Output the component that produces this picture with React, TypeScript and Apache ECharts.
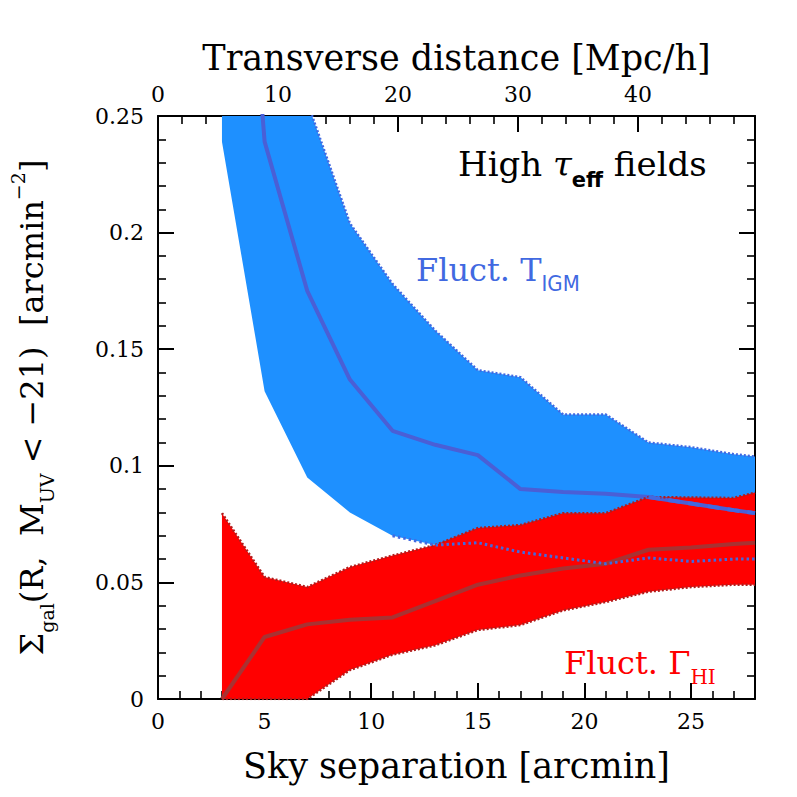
import React, { useEffect, useRef } from "react";
import * as echarts from "echarts";

// Sky separation [arcmin] sample points
const sep = [3, 5, 7, 9, 11, 13, 15, 17, 19, 21, 23, 25, 27, 28];
// Fluct. T_IGM band (blue)
const blueUpper = [0.62, 0.36, 0.256, 0.204, 0.178, 0.158, 0.141, 0.138, 0.122, 0.122, 0.110, 0.108, 0.105, 0.104];
const blueLower = [0.239, 0.132, 0.095, 0.080, 0.070, 0.066, 0.067, 0.063, 0.0605, 0.058, 0.0605, 0.059, 0.060, 0.060];
const blueMedian = [0.47, 0.239, 0.175, 0.137, 0.115, 0.109, 0.1046, 0.090, 0.0888, 0.088, 0.0866, 0.0838, 0.081, 0.0797];
// Fluct. Gamma_HI band (red)
const redUpper = [0.0797, 0.0523, 0.048, 0.0566, 0.0615, 0.066, 0.0733, 0.0746, 0.0797, 0.0797, 0.0866, 0.0864, 0.0862, 0.0885];
const redLower = [0, 0, 0, 0.0124, 0.019, 0.023, 0.0296, 0.0317, 0.038, 0.0416, 0.046, 0.048, 0.049, 0.049];
const redMedian = [0, 0.0266, 0.032, 0.034, 0.035, 0.042, 0.049, 0.053, 0.056, 0.058, 0.064, 0.065, 0.0665, 0.067];

// axes
const sepMax = 28;
const transverseMax = 49.75;
const yMax = 0.25;
const dashedFrom = 23; // blue median drawn dashed where it runs over the red band
const blueLowerOverFrom = 11; // blue lower edge redrawn over the red band

const SERIF = '"DejaVu Serif", serif';

const pairs = (ys: number[]) => sep.map((x, i) => [x, ys[i]]);

function bandSeries(upper: number[], lower: number[], color: string) {
  return {
    type: "custom",
    coordinateSystem: "cartesian2d",
    xAxisIndex: 0,
    yAxisIndex: 0,
    silent: true,
    data: [[sep[0], lower[0]]],
    renderItem: (params: any, api: any) => {
      const top = sep.map((x, i) => api.coord([x, upper[i]]));
      const bot = sep.map((x, i) => api.coord([x, lower[i]])).reverse();
      const cs = params.coordSys;
      return {
        type: "polygon",
        shape: { points: top.concat(bot) },
        style: { fill: color, stroke: null },
        clipPath: { type: "rect", shape: { x: cs.x, y: cs.y, width: cs.width, height: cs.height } },
      };
    },
  };
}

const axisLine = () => ({ show: true, onZero: false, lineStyle: { color: "#000", width: 2 } });
const axisTick = () => ({ show: true, inside: true, length: 16, lineStyle: { color: "#000", width: 2 } });
const minorTick = () => ({ show: true, splitNumber: 5, length: 8, lineStyle: { color: "#000", width: 1.6 } });
const lbl = (margin: number, extra: any = {}) => ({
  show: true, color: "#000", fontFamily: SERIF, fontSize: 22, margin, ...extra,
});

export default function App() {
  const ref = useRef<HTMLDivElement>(null);
  useEffect(() => {
    if (!ref.current) return;
    const chart = echarts.init(ref.current, undefined, { renderer: "svg" });
    const noSym = { showSymbol: false, symbol: "none", silent: true };
    const option: any = {
      animation: false,
      backgroundColor: "#fff",
      grid: { left: 158, right: 42, top: 116, bottom: 98, containLabel: false },
      xAxis: [
        {
          type: "value", position: "bottom", min: 0, max: sepMax, interval: 5,
          axisLine: axisLine(), axisTick: axisTick(), minorTick: minorTick(),
          splitLine: { show: false }, minorSplitLine: { show: false },
          axisLabel: lbl(11, { showMaxLabel: false }),
          name: "Sky separation [arcmin]", nameLocation: "middle", nameGap: 49,
          nameTextStyle: { color: "#000", fontFamily: SERIF, fontSize: 35 },
        },
        {
          type: "value", position: "top", min: 0, max: transverseMax, interval: 10,
          axisLine: axisLine(), axisTick: axisTick(), minorTick: minorTick(),
          splitLine: { show: false }, minorSplitLine: { show: false },
          axisLabel: lbl(11, { showMaxLabel: false }),
          name: "Transverse distance [Mpc/h]", nameLocation: "middle", nameGap: 41,
          nameTextStyle: { color: "#000", fontFamily: SERIF, fontSize: 35 },
        },
      ],
      yAxis: [
        {
          type: "value", position: "left", min: 0, max: yMax, interval: 0.05,
          axisLine: axisLine(), axisTick: axisTick(), minorTick: minorTick(),
          splitLine: { show: false }, minorSplitLine: { show: false },
          axisLabel: lbl(14),
          name: "{a|Σ}{s|gal}{a|(R,  M}{s|UV}{a| < −21)  [arcmin}{p|−2}{a|]}",
          nameLocation: "middle", nameRotate: 90, nameGap: 102,
          nameTextStyle: {
            color: "#000",
            rich: {
              a: { fontFamily: SERIF, fontSize: 32, lineHeight: 48, color: "#000" },
              s: { fontFamily: SERIF, fontSize: 19, lineHeight: 18, verticalAlign: "bottom", color: "#000" },
              p: { fontFamily: SERIF, fontSize: 19, lineHeight: 22, verticalAlign: "top", color: "#000" },
            },
          },
        },
        {
          type: "value", position: "right", min: 0, max: yMax, interval: 0.05,
          axisLine: axisLine(), axisTick: axisTick(), minorTick: minorTick(),
          splitLine: { show: false }, minorSplitLine: { show: false },
          axisLabel: { show: false },
        },
      ],
      series: [
        bandSeries(blueUpper, blueLower, "#1E90FF"),
        { type: "line", ...noSym, data: pairs(blueUpper), lineStyle: { color: "#4169E1", width: 2.5, type: [2, 2] } },
        { type: "line", ...noSym, data: pairs(blueMedian), lineStyle: { color: "#4A5FD6", width: 4 } },
        bandSeries(redUpper, redLower, "#FF0000"),
        { type: "line", ...noSym, data: pairs(redUpper), lineStyle: { color: "#B01C1C", width: 2.5, type: [2, 2] } },
        { type: "line", ...noSym, data: pairs(redLower), lineStyle: { color: "#B01C1C", width: 2.5, type: [2, 2] } },
        { type: "line", ...noSym, data: pairs(redMedian), lineStyle: { color: "#A83232", width: 4 } },
        {
          type: "line", ...noSym, data: pairs(blueLower).filter((p) => p[0] >= blueLowerOverFrom),
          lineStyle: { color: "#4169E1", width: 3, type: [2.5, 3] },
        },
        {
          type: "line", ...noSym, data: pairs(blueMedian).filter((p) => p[0] >= dashedFrom),
          lineStyle: { color: "#4169E1", width: 4, type: [12, 8] },
        },
      ],
      graphic: [
        {
          type: "text", x: 458, y: 164, silent: true,
          style: {
            text: "{a|High }{t|τ}{s|eff}{a| fields}",
            align: "left", verticalAlign: "middle",
            rich: {
              a: { fontFamily: SERIF, fontSize: 34, lineHeight: 52, fill: "#000" },
              t: { fontFamily: SERIF, fontStyle: "italic", fontSize: 34, lineHeight: 52, fill: "#000" },
              s: { fontFamily: '"DejaVu Sans", sans-serif', fontWeight: "bold", fontSize: 21, lineHeight: 18, verticalAlign: "bottom", fill: "#000" },
            },
          },
        },
        {
          type: "text", x: 416, y: 270, silent: true,
          style: {
            text: "{a|Fluct. T}{s|IGM}",
            align: "left", verticalAlign: "middle",
            rich: {
              a: { fontFamily: SERIF, fontSize: 32, lineHeight: 48, fill: "#4169E1" },
              s: { fontFamily: '"DejaVu Sans Condensed", "DejaVu Sans", sans-serif', fontSize: 22, lineHeight: 22, verticalAlign: "bottom", fill: "#4169E1" },
            },
          },
        },
        {
          type: "text", x: 564, y: 663, silent: true,
          style: {
            text: "{a|Fluct. Γ}{s|HI}",
            align: "left", verticalAlign: "middle",
            rich: {
              a: { fontFamily: SERIF, fontSize: 32, lineHeight: 48, fill: "#FF0000" },
              s: { fontFamily: SERIF, fontSize: 20, lineHeight: 20, verticalAlign: "bottom", fill: "#FF0000" },
            },
          },
        },
      ],
    };
    chart.setOption(option);
    return () => chart.dispose();
  }, []);
  return <div ref={ref} style={{ width: 797, height: 797, position: "absolute", left: 0, top: 0 }} />;
}
